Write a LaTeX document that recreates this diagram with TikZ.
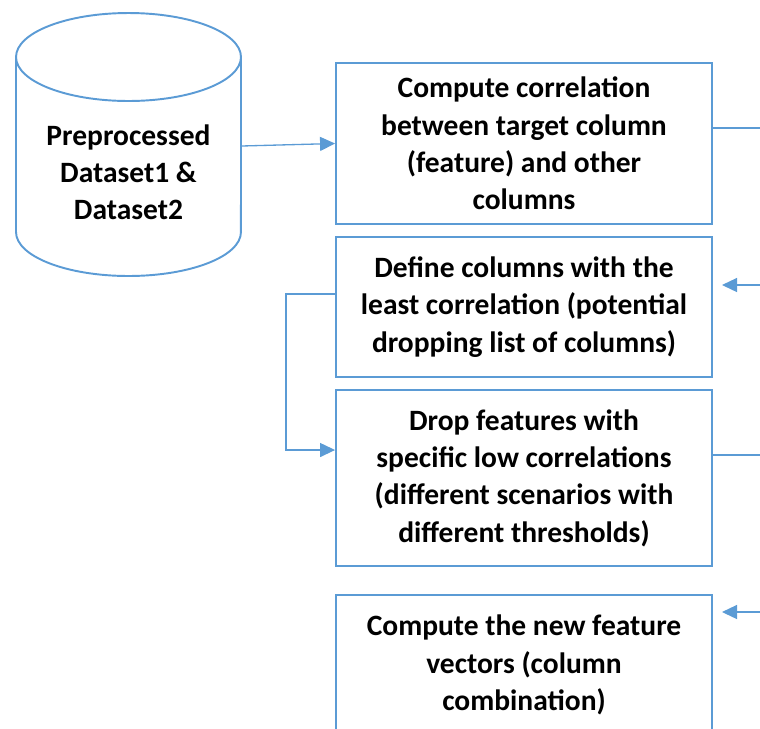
\documentclass[tikz,border=0pt]{standalone}
\usepackage{fontspec}
\setmainfont{Carlito}
\usetikzlibrary{arrows.meta}
\definecolor{lineblue}{RGB}{91,155,213}

\begin{document}
\begin{tikzpicture}[x=0.02cm,y=-0.02cm,
  every node/.style={font=\bfseries\fontsize{16.8}{21.2}\selectfont, align=center},
  stepbox/.style={draw=lineblue, line width=1.1pt, minimum width=7.52cm, inner sep=0pt},
  cyl/.style={draw=lineblue, line width=1.1pt},
  conn/.style={lineblue, line width=0.75pt},
  arr/.style={conn, -{Triangle[length=0.3cm,width=0.28cm]}}]
\useasboundingbox (0,0) rectangle (760,728);
% database
\draw[cyl] (128.5,57) ellipse [x radius=2.25cm, y radius=0.88cm];
\draw[cyl] (16,57) -- (16,232) arc[start angle=180, end angle=360, x radius=2.25cm, y radius=0.88cm] -- (241,57);
\node[minimum width=4.5cm, inner sep=0pt] (db) at (128.5,172) {Preprocessed\\Dataset1 \&\\Dataset2};
% steps
\node[stepbox, minimum height=3.22cm] (corr) at (524,143.5) {Compute correlation\\between target column\\(feature) and other\\columns};
\node[stepbox, minimum height=2.8cm] (least) at (524,307) {Define columns with the\\least correlation (potential\\dropping list of columns)};
\node[stepbox, minimum height=3.52cm] (drop) at (524,478) {Drop features with\\specific low correlations\\(different scenarios with\\different thresholds)};
\node[stepbox, minimum height=2.8cm] (vec) at (524,665) {Compute the new feature\\vectors (column\\combination)};
% loose ends on the right
\coordinate (out1) at (760,128);
\coordinate (in2) at (760,285);
\coordinate (tip2) at (722,285);
\coordinate (out3) at (760,455);
\coordinate (in4) at (760,612);
\coordinate (tip4) at (722,612);
% connectors
\draw[arr] ([yshift=0.52cm]db.east) -- (corr.west);
\draw[conn] (corr.east |- out1) -- (out1);
\draw[arr] (in2) -- (tip2);
\draw[conn] (drop.east |- out3) -- (out3);
\draw[arr] (in4) -- (tip4);
\draw[arr] ([yshift=0.26cm]least.west) -- ++(-49,0) |- ([yshift=0.56cm]drop.west);
\end{tikzpicture}
\end{document}
